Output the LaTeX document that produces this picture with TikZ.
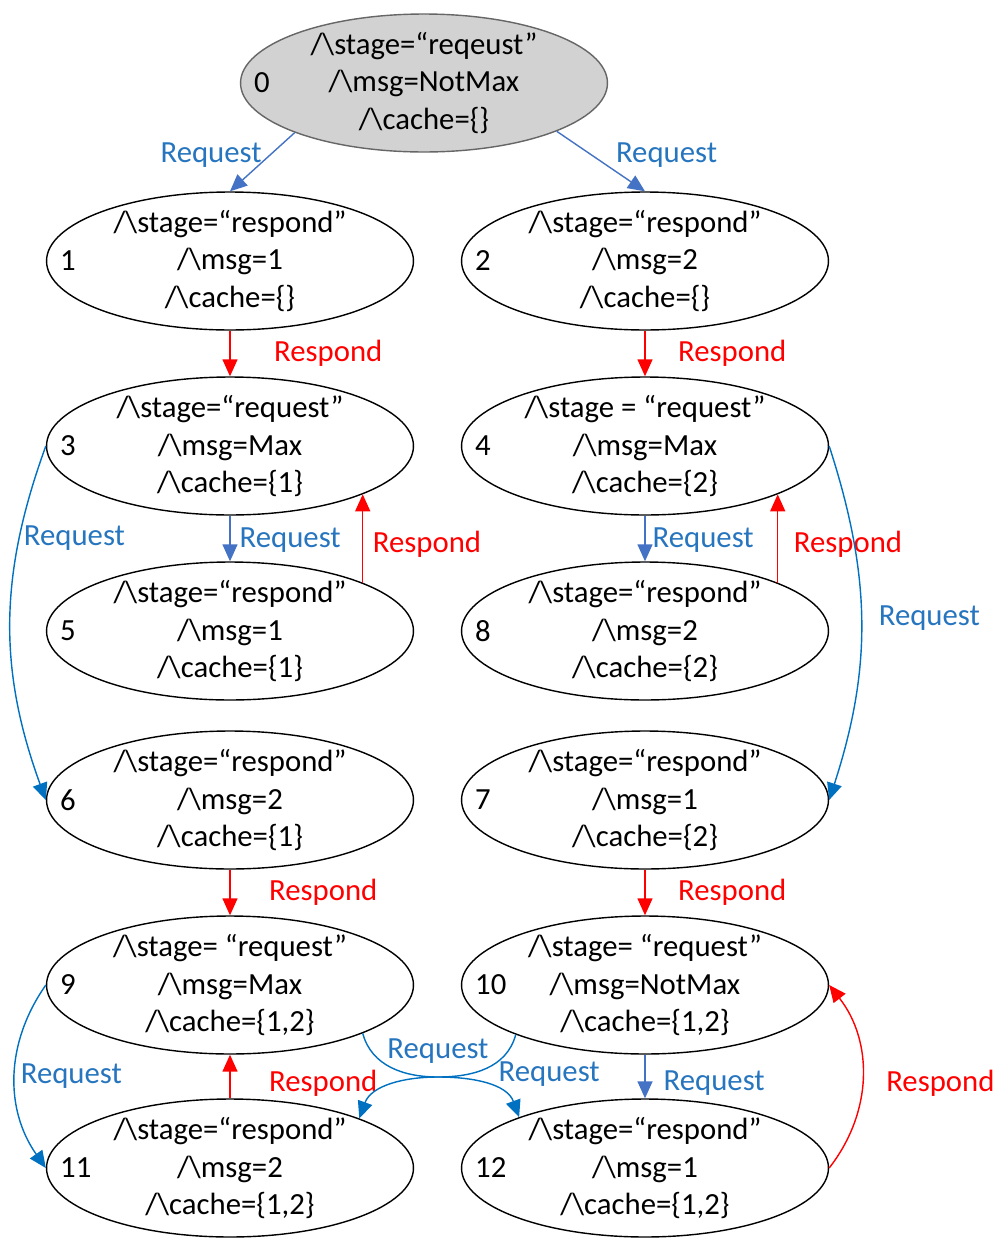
\documentclass[tikz,border=0pt]{standalone}
\usepackage{fontspec}
\setmainfont{Carlito}
\usetikzlibrary{arrows.meta,shapes.geometric,positioning}
\definecolor{reqline}{RGB}{68,114,196}
\definecolor{reqcurve}{RGB}{0,112,192}
\definecolor{reqtext}{RGB}{38,117,190}
\definecolor{rspred}{RGB}{255,0,0}
\tikzset{
  state/.style={draw, ellipse, line width=0.8pt, minimum width=7.34cm, minimum height=2.76cm,
    inner xsep=0pt, inner ysep=-4pt, align=center, font=\fontsize{17.5}{21.5}\selectfont},
  num/.style={anchor=west, inner sep=0pt, label distance=-0.28cm, font=\fontsize{17.5}{21.5}\selectfont},
  lbl/.style={inner sep=0pt, font=\fontsize{17.5}{21.5}\selectfont},
  tip/.style={-{Triangle[length=0.34cm,width=0.3cm]}},
  req/.style={draw=reqline, line width=0.8pt, tip},
  reqc/.style={draw=reqcurve, line width=0.8pt, tip},
  rsp/.style={draw=rspred, line width=0.8pt, tip},
  reqlbl/.style={lbl, text=reqtext},
  rsplbl/.style={lbl, text=rspred}
}
\begin{document}
\begin{tikzpicture}[x=0.02cm,y=0.02cm]
  \useasboundingbox (0,0) rectangle (999,-1238);
  % states
  \node[state, fill=gray!35, draw=gray!80!black, label={[num]west:0}] (n0) at (424,-83)
    {/\textbackslash stage=“reqeust”\\/\textbackslash msg=NotMax\\/\textbackslash cache=\{\}};
  \node[state, label={[num]west:1}] (n1) at (230,-261)
    {/\textbackslash stage=“respond”\\/\textbackslash msg=1\\/\textbackslash cache=\{\}};
  \node[state, label={[num]west:2}] (n2) at (645,-261)
    {/\textbackslash stage=“respond”\\/\textbackslash msg=2\\/\textbackslash cache=\{\}};
  \node[state, label={[num]west:3}] (n3) at (230,-446)
    {/\textbackslash stage=“request”\\/\textbackslash msg=Max\\/\textbackslash cache=\{1\}};
  \node[state, label={[num]west:4}] (n4) at (645,-446)
    {/\textbackslash stage = “request”\\/\textbackslash msg=Max\\/\textbackslash cache=\{2\}};
  \node[state, label={[num]west:5}] (n5) at (230,-631)
    {/\textbackslash stage=“respond”\\/\textbackslash msg=1\\/\textbackslash cache=\{1\}};
  \node[state, label={[num]west:8}] (n8) at (645,-631)
    {/\textbackslash stage=“respond”\\/\textbackslash msg=2\\/\textbackslash cache=\{2\}};
  \node[state, label={[num]west:6}] (n6) at (230,-800)
    {/\textbackslash stage=“respond”\\/\textbackslash msg=2\\/\textbackslash cache=\{1\}};
  \node[state, label={[num]west:7}] (n7) at (645,-800)
    {/\textbackslash stage=“respond”\\/\textbackslash msg=1\\/\textbackslash cache=\{2\}};
  \node[state, label={[num]west:9}] (n9) at (230,-985)
    {/\textbackslash stage= “request”\\/\textbackslash msg=Max\\/\textbackslash cache=\{1,2\}};
  \node[state, label={[num]west:10}] (n10) at (645,-985)
    {/\textbackslash stage= “request”\\/\textbackslash msg=NotMax\\/\textbackslash cache=\{1,2\}};
  \node[state, label={[num]west:11}] (n11) at (230,-1168)
    {/\textbackslash stage=“respond”\\/\textbackslash msg=2\\/\textbackslash cache=\{1,2\}};
  \node[state, label={[num]west:12}] (n12) at (645,-1168)
    {/\textbackslash stage=“respond”\\/\textbackslash msg=1\\/\textbackslash cache=\{1,2\}};
  % transitions
  \draw[req] (n0.201) -- (n1.north) node[reqlbl, midway, anchor=east, yshift=0.14cm] {Request};
  \draw[req] (n0.-20) -- (n2.north) node[reqlbl, midway, anchor=west, xshift=0.29cm, yshift=0.12cm] {Request};
  \draw[rsp] (n1.south) -- (n3.north) node[rsplbl, midway, anchor=west, xshift=0.87cm] {Respond};
  \draw[rsp] (n2.south) -- (n4.north) node[rsplbl, midway, anchor=west, xshift=0.65cm] {Respond};
  \draw[req] (n3.south) -- (n5.north) node[reqlbl, midway, anchor=west, xshift=0.18cm, yshift=-0.04cm] {Request};
  \draw[rsp] (n5.20) -- (n3.-20) node[rsplbl, midway, anchor=west, xshift=0.19cm, yshift=-0.11cm] {Respond};
  \draw[req] (n4.south) -- (n8.north) node[reqlbl, midway, anchor=west, xshift=0.14cm, yshift=-0.04cm] {Request};
  \draw[rsp] (n8.20) -- (n4.-20) node[rsplbl, midway, anchor=west, xshift=0.31cm, yshift=-0.11cm] {Respond};
  \draw[reqc] (n3.west) to[out=250, in=110] node[reqlbl, pos=0.25, anchor=west, xshift=0.08cm] {Request} (n6.west);
  \draw[reqc] (n4.east) to[out=-72, in=72] node[reqlbl, pos=0.5, anchor=west, xshift=0.34cm, yshift=0.1cm] {Request} (n7.east);
  \draw[rsp] (n6.south) -- (n9.north) node[rsplbl, midway, anchor=west, xshift=0.77cm] {Respond};
  \draw[rsp] (n7.south) -- (n10.north) node[rsplbl, midway, anchor=west, xshift=0.65cm] {Respond};
  \draw[reqc] (n9.west) to[out=235, in=125] node[reqlbl, pos=0.5, anchor=west, xshift=0.1cm] {Request} (n11.west);
  \draw[rsp] (n11.north) -- (n9.south) node[rsplbl, midway, anchor=west, xshift=0.77cm, yshift=-0.14cm] {Respond};
  \draw[req] (n10.south) -- (n12.north) node[reqlbl, midway, anchor=west, xshift=0.36cm, yshift=-0.14cm] {Request};
  \draw[rsp] (n12.east) to[out=52, in=-52] node[rsplbl, pos=0.5, anchor=west, xshift=0.47cm, yshift=-0.14cm] {Respond} (n10.east);
  % crossing requests
  \coordinate (cross) at (438,-1077);
  \draw[reqc] (n10.201) to[out=-105, in=0] node[reqlbl, pos=1, above=0.25cm] {Request} (cross)
    to[out=180, in=70] (n11.21);
  \draw[reqc] (n9.-20) to[out=-75, in=180] (cross)
    to[out=0, in=110] node[reqlbl, pos=0.6, anchor=west, xshift=0.05cm, yshift=0.3cm] {Request} (n12.158);
\end{tikzpicture}
\end{document}
